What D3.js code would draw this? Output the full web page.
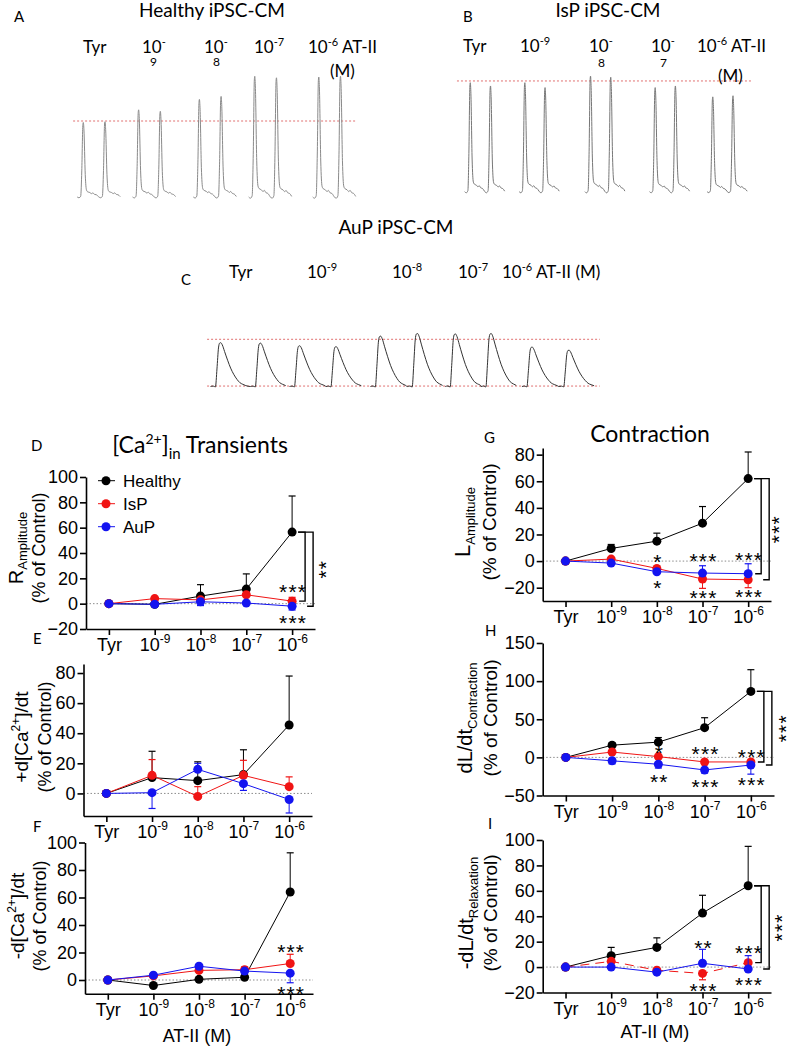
<!DOCTYPE html>
<html>
<head>
<meta charset="utf-8">
<script src="https://cdn.jsdelivr.net/npm/d3@7"></script>
<style>
  body { margin: 0; background: #fff; }
  svg { display: block; }
  text { white-space: pre; }
</style>
</head>
<body>
<script>

// ---- data ----
var doses = ["Tyr", "10-9", "10-8", "10-7", "10-6"];
var groups = ["Healthy", "IsP", "AuP"];
var groupColors = ["#000000", "#f01414", "#1414f0"];

// raw traces: beat times (s) and peak amplitude (relative to Tyr) of the 2 beats shown per dose
var healthyBeatTimes = [[0, 1], [2.55, 3.55], [5.35, 6.35], [7.9, 8.9], [10.85, 11.85]];
var healthyBeatAmp = [[1.0, 1.01], [1.17, 1.15], [1.31, 1.35], [1.62, 1.60], [1.61, 1.62]];
var ispBeatTimes = [[0, 1], [2.7, 3.7], [5.95, 6.95], [9.15, 10.15], [12, 13]];
var ispBeatAmp = [[1.0, 0.97], [1.0, 0.955], [1.06, 1.05], [0.955, 0.97], [0.87, 0.88]];
var aupBeatTimes = [[0, 1.05], [2.08, 3.04], [4.21, 5.18], [6.18, 7.12], [8.2, 9.17]];
var aupBeatAmp = [[1.0, 0.99], [0.93, 0.91], [1.15, 1.21], [1.2, 1.21], [0.9, 0.83]];
// beat shapes [time from peak (s), fraction of peak]
var fastBeat = [[-0.28, 0], [-0.2, -0.01], [-0.12, 0.01], [-0.07, 0.35], [-0.02, 0.97], [0, 1], [0.03, 0.9],
  [0.09, 0.3], [0.15, 0.09], [0.2, 0.07], [0.3, 0.06], [0.38, 0.045], [0.44, 0.055], [0.52, 0.035], [0.6, 0.03], [0.7, 0.005]];
var slowBeat = [[-0.25, 0], [-0.18, 0.01], [-0.12, -0.01], [-0.08, 0.4], [-0.04, 0.88], [-0.01, 0.99], [0.02, 1], [0.06, 0.95],
  [0.12, 0.8], [0.2, 0.6], [0.28, 0.42], [0.36, 0.28], [0.45, 0.16], [0.52, 0.09], [0.6, 0.05], [0.68, 0.02]];

// D  R amplitude
var rAmpHealthy = [0, -0.5, 6, 11.5, 56.5],   rAmpHealthySem = [0, 0, 9, 12, 28.5];
var rAmpIsP = [0, 4, 3, 7, 2],                rAmpIsPSem = [0, 0, 0, 0, 3];
var rAmpAuP = [0, -0.5, 1.5, 0.5, -2],        rAmpAuPSem = [0, 0, -3, 0, -3];
// E  +d[Ca]/dt
var upHealthy = [0, 10.5, 8.5, 12.5, 45.5],   upHealthySem = [0, 17.5, 12.5, 16.5, 32.5];
var upIsP = [0, 12, -2, 12, 4.5],             upIsPSem = [0, 10.5, 6.5, 10, 6.5];
var upAuP = [0, 0.5, 16, 6.5, -4],            upAuPSem = [0, -10.5, 4, -4.5, -9];
// F  -d[Ca]/dt
var downHealthy = [0, -4, 0.5, 2, 64],        downHealthySem = [0, 0, 0, 0, 28.5];
var downIsP = [0, 3, 7, 7.5, 12],             downIsPSem = [0, 0, 0, 2, 6.7];
var downAuP = [0, 3.5, 10, 6.5, 5],           downAuPSem = [0, 0, 0, 0, -7];
// G  L amplitude
var lAmpHealthy = [0, 9.5, 15, 28.5, 62],     lAmpHealthySem = [0, 3, 6, 12.5, 20];
var lAmpIsP = [0, 1.5, -5.5, -13.5, -14],     lAmpIsPSem = [0, 0, 0, -7, -6];
var lAmpAuP = [0, -1.5, -8, -9, -9.5],        lAmpAuPSem = [0, 0, 0, 5.5, 7.5];
// H  dL/dt contraction
var conHealthy = [0, 16, 20, 39, 86.5],       conHealthySem = [0, 3, 6, 13, 28.5];
var conIsP = [0, 7, 1, -6, -6],               conIsPSem = [0, 0, 0, 0, 0];
var conAuP = [0, -4.5, -9, -16.5, -10],       conAuPSem = [0, -4, -5, -4, -12];
// I  -dL/dt relaxation
var relHealthy = [0, 9, 15.5, 42.5, 64],      relHealthySem = [0, 6.5, 7.5, 14, 31];
var relIsP = [0, 4.5, -2.5, -5, 3.5],         relIsPSem = [0, 0, 0, -5, -6];
var relAuP = [0, 0, -4, 3, -1.5],             relAuPSem = [0, 0, 0, 11, 10.5];

// significance marks [dose index, y value, text]
var rAmpStars = [[4, 13, "***"], [4, -11, "***"]];
var downStars = [[4, 24, "***"], [4, -6.5, "***"]];
var lAmpStars = [[2, 3.2, "*"], [2, -16.3, "*"], [3, 3.8, "***"], [3, -23.8, "***"], [4, 4.5, "***"], [4, -23.3, "***"]];
var conStars = [[2, 12.7, "*"], [3, 11, "***"], [4, 7.5, "***"], [2, -25.3, "**"], [3, -32.7, "***"], [4, -29.6, "***"]];
var relStars = [[3, 19.2, "**"], [4, 15.3, "***"], [3, -14.9, "***"], [4, -10.1, "***"]];

var SANS = "'Liberation Sans', Arial, sans-serif";
var CAL = "Lato, 'Open Sans', sans-serif";

var svg = d3.select("body").append("svg")
    .attr("width", 787)
    .attr("height", 1048);

// text made of parts, shift >0 = down (sub), <0 = up (sup)
function richText(sel, parts) {
    var cur = 0;
    parts.forEach(function (p) {
        var shift = p.shift || 0;
        sel.append("tspan")
            .attr("dy", shift - cur)
            .attr("font-size", p.size)
            .text(p.t);
        cur = shift;
    });
    return sel;
}

function label(x, y, parts, family, anchor) {
    var t = svg.append("text")
        .attr("x", x).attr("y", y)
        .attr("font-family", family || CAL)
        .attr("text-anchor", anchor || "start")
        .attr("fill", "#000");
    return richText(t, parts);
}

// ---- traces ----
function drawTraces(opt) {
    var x = d3.scaleLinear().domain(opt.tDomain).range(opt.xRange);
    var y = d3.scaleLinear().domain([0, 1]).range(opt.yRange);
    var line = d3.line().x(function (d) { return x(d[0]); }).y(function (d) { return y(d[1]); })
        .curve(d3.curveMonotoneX);

    opt.refLines.forEach(function (r) {
        svg.append("line")
            .attr("x1", x(opt.refT[0])).attr("x2", x(opt.refT[1]))
            .attr("y1", y(r)).attr("y2", y(r))
            .attr("stroke", "#e07070").attr("stroke-width", 1)
            .attr("stroke-dasharray", "2,2");
    });

    opt.times.forEach(function (pair, i) {
        var pts = [];
        pair.forEach(function (t0, j) {
            var a = opt.amps[i][j];
            opt.shape.forEach(function (p) {
                pts.push([t0 + p[0], p[1] * a]);
            });
        });
        svg.append("path")
            .attr("d", line(pts))
            .attr("fill", "none")
            .attr("stroke", opt.color)
            .attr("stroke-width", 1);
    });
}

drawTraces({times: healthyBeatTimes, amps: healthyBeatAmp, shape: fastBeat,
    tDomain: [0, 11.85], xRange: [83.3, 340.5], yRange: [197, 122.5],
    refLines: [1.02], refT: [-0.47, 12.6], color: "#8a8a8a"});
drawTraces({times: ispBeatTimes, amps: ispBeatAmp, shape: fastBeat,
    tDomain: [0, 13], xRange: [470.3, 733], yRange: [191.7, 82.7],
    refLines: [1.016], refT: [-0.66, 13.94], color: "#777777"});
drawTraces({times: aupBeatTimes, amps: aupBeatAmp, shape: slowBeat,
    tDomain: [0, 9.17], xRange: [220, 568.3], yRange: [386.5, 342.7],
    refLines: [1.078, 0.01], refT: [-0.34, 10.0], color: "#333333"});

// trace titles and labels
label(212, 17, [{t: "Healthy iPSC-CM", size: 19}], CAL, "middle");
label(608, 17, [{t: "IsP iPSC-CM", size: 19}], CAL, "middle");
label(396, 234, [{t: "AuP iPSC-CM", size: 19}], CAL, "middle");
label(14, 22, [{t: "A", size: 15}]);
label(463, 22, [{t: "B", size: 15}]);
label(181, 285, [{t: "C", size: 15}]);

label(83, 53, [{t: "Tyr", size: 17}]);
label(142, 53, [{t: "10", size: 17}, {t: "-", size: 11, shift: -7}]);
label(150, 66, [{t: "9", size: 12}]);
label(204, 53, [{t: "10", size: 17}, {t: "-", size: 11, shift: -7}]);
label(213, 66, [{t: "8", size: 12}]);
label(254, 53, [{t: "10", size: 17}, {t: "-7", size: 11, shift: -7}]);
label(308, 53, [{t: "10", size: 17}, {t: "-6", size: 11, shift: -7}, {t: " AT-II", size: 17}]);
label(330, 77, [{t: "(M)", size: 17}]);

label(463, 52, [{t: "Tyr", size: 17}]);
label(520, 52, [{t: "10", size: 17}, {t: "-9", size: 11, shift: -7}]);
label(589, 52, [{t: "10", size: 17}, {t: "-", size: 11, shift: -7}]);
label(598, 67, [{t: "8", size: 12}]);
label(651, 52, [{t: "10", size: 17}, {t: "-", size: 11, shift: -7}]);
label(660, 67, [{t: "7", size: 12}]);
label(697, 52, [{t: "10", size: 17}, {t: "-6", size: 11, shift: -7}, {t: " AT-II", size: 17}]);
label(718, 82, [{t: "(M)", size: 17}]);

label(229, 278, [{t: "Tyr", size: 17}]);
label(307, 278, [{t: "10", size: 17}, {t: "-9", size: 11, shift: -7}]);
label(392, 278, [{t: "10", size: 17}, {t: "-8", size: 11, shift: -7}]);
label(458, 278, [{t: "10", size: 17}, {t: "-7", size: 11, shift: -7}]);
label(502, 278, [{t: "10", size: 17}, {t: "-6", size: 11, shift: -7}, {t: " AT-II (M)", size: 17}]);

// ---- summary panels ----
function drawPanel(cfg) {
    var x = d3.scalePoint().domain(doses).range([cfg.left, cfg.right]).padding(0.5);
    var y = d3.scaleLinear().domain(cfg.yDomain).range([cfg.bottom, cfg.top]);
    var g = svg.append("g");

    // dotted zero line
    g.append("line")
        .attr("x1", cfg.left).attr("x2", cfg.right)
        .attr("y1", y(0)).attr("y2", y(0))
        .attr("stroke", "#8c8c8c").attr("stroke-width", 1)
        .attr("stroke-dasharray", "1.5,2");

    var ya = g.append("g")
        .attr("transform", "translate(" + cfg.left + ",0)")
        .call(d3.axisLeft(y).tickValues(cfg.ticks).tickSize(6).tickSizeOuter(0).tickPadding(2));
    var xa = g.append("g")
        .attr("transform", "translate(0," + cfg.bottom + ")")
        .call(d3.axisBottom(x).tickSize(6).tickSizeOuter(0));

    [ya, xa].forEach(function (a) {
        a.select(".domain").attr("stroke", "#000").attr("stroke-width", 1.6);
        a.selectAll(".tick line").attr("stroke", "#000").attr("stroke-width", 1.6);
        a.selectAll("text").attr("font-family", SANS).attr("font-size", 18).attr("fill", "#000");
    });
    xa.selectAll(".tick text").each(function (d) {
        var t = d3.select(this).text("").attr("y", 22).attr("dy", null);
        if (d === "Tyr") {
            t.text("Tyr");
        } else {
            richText(t, [{t: "10", size: 18}, {t: d.slice(2), size: 12, shift: -8}]);
        }
    });

    // series
    cfg.series.forEach(function (s, k) {
        var color = groupColors[k];
        var pts = s.values.map(function (v, i) { return [x(doses[i]), y(v)]; });
        g.append("path")
            .attr("d", d3.line()(pts))
            .attr("fill", "none")
            .attr("stroke", color)
            .attr("stroke-width", 1)
            .attr("stroke-dasharray", s.dash || null);
        s.sem.forEach(function (e, i) {
            if (!e) return;
            var cx = x(doses[i]), v = s.values[i];
            g.append("line")
                .attr("x1", cx).attr("x2", cx)
                .attr("y1", y(v)).attr("y2", y(v + e))
                .attr("stroke", color).attr("stroke-width", 1);
            g.append("line")
                .attr("x1", cx - 3.5).attr("x2", cx + 3.5)
                .attr("y1", y(v + e)).attr("y2", y(v + e))
                .attr("stroke", color).attr("stroke-width", 1.2);
        });
        g.selectAll(null)
            .data(s.values)
            .enter().append("circle")
            .attr("cx", function (d, i) { return x(doses[i]); })
            .attr("cy", function (d) { return y(d); })
            .attr("r", 4.5)
            .attr("fill", color);
    });

    // stars
    (cfg.stars || []).forEach(function (st) {
        g.append("text")
            .attr("x", x(doses[st[0]]) + 1)
            .attr("y", y(st[1]))
            .attr("dy", "0.57em")
            .attr("text-anchor", "middle")
            .attr("font-family", SANS)
            .attr("font-size", 21)
            .attr("letter-spacing", 1.2)
            .text(st[2]);
    });

    // brackets healthy vs the other two groups at the last dose
    if (cfg.bracket) {
        var cx = x(doses[4]);
        var hy = y(cfg.series[0].values[4]);
        var ends = [cfg.series[1].values[4], cfg.series[2].values[4]].sort(function (a, b) { return b - a; });
        var yi = y(ends[0]), yo = y(ends[1]);
        g.append("path")
            .attr("d", "M" + (cx + 6) + "," + hy + "H" + (cx + 13) + "V" + yi + "H" + (cx + 7))
            .attr("fill", "none").attr("stroke", "#000").attr("stroke-width", 1.4);
        g.append("path")
            .attr("d", "M" + (cx + 6) + "," + hy + "H" + (cx + 21) + "V" + yo + "H" + (cx + 15))
            .attr("fill", "none").attr("stroke", "#000").attr("stroke-width", 1.4);
        g.append("text")
            .attr("transform", "translate(" + (cx + cfg.bracket.dx) + "," + ((hy + yo) / 2) + ") rotate(-90)")
            .attr("dy", "0.57em")
            .attr("text-anchor", "middle")
            .attr("font-family", SANS)
            .attr("font-size", 21)
            .attr("letter-spacing", 1.2)
            .text(cfg.bracket.text);
    }

    // y label, two lines, rotated
    cfg.ylab.forEach(function (ln) {
        var t = svg.append("text")
            .attr("transform", "translate(" + ln.x + "," + cfg.ycy + ") rotate(-90)")
            .attr("text-anchor", "middle")
            .attr("font-family", SANS)
            .attr("fill", "#000");
        richText(t, ln.parts);
    });

    if (cfg.xlab) {
        label((cfg.left + cfg.right) / 2 - 2, cfg.xlab, [{t: "AT-II (M)", size: 18}], SANS, "middle");
    }
    return {x: x, y: y};
}

var ctrl = function (size) { return {t: "(% of Control)", size: size}; };

drawPanel({left: 86, right: 315, top: 477, bottom: 629, yDomain: [-20, 100], ticks: [-20, 0, 20, 40, 60, 80, 100],
    series: [{values: rAmpHealthy, sem: rAmpHealthySem}, {values: rAmpIsP, sem: rAmpIsPSem}, {values: rAmpAuP, sem: rAmpAuPSem}],
    stars: rAmpStars, bracket: {dx: 29, text: "**"}, ycy: 548,
    ylab: [{x: 23, parts: [{t: "R", size: 20}, {t: "Amplitude", size: 13, shift: 4}]}, {x: 45, parts: [ctrl(18)]}]});

drawPanel({left: 83.5, right: 312, top: 664, bottom: 816, yDomain: [-15, 86], ticks: [0, 20, 40, 60, 80],
    series: [{values: upHealthy, sem: upHealthySem}, {values: upIsP, sem: upIsPSem}, {values: upAuP, sem: upAuPSem}],
    ycy: 737,
    ylab: [{x: 28, parts: [{t: "+d[Ca", size: 19}, {t: "2+", size: 12, shift: -8}, {t: "]/dt", size: 19}]}, {x: 51, parts: [ctrl(18)]}]});

drawPanel({left: 85, right: 313, top: 842.5, bottom: 993.75, yDomain: [-10, 100], ticks: [0, 20, 40, 60, 80, 100],
    series: [{values: downHealthy, sem: downHealthySem}, {values: downIsP, sem: downIsPSem}, {values: downAuP, sem: downAuPSem}],
    stars: downStars, ycy: 916, xlab: 1042,
    ylab: [{x: 24, parts: [{t: "-d[Ca", size: 19}, {t: "2+", size: 12, shift: -8}, {t: "]/dt", size: 19}]}, {x: 46, parts: [ctrl(18)]}]});

drawPanel({left: 542.7, right: 771, top: 448, bottom: 601, yDomain: [-30, 85], ticks: [-20, 0, 20, 40, 60, 80],
    series: [{values: lAmpHealthy, sem: lAmpHealthySem}, {values: lAmpIsP, sem: lAmpIsPSem}, {values: lAmpAuP, sem: lAmpAuPSem}],
    stars: lAmpStars, bracket: {dx: 26, text: "***"}, ycy: 522,
    ylab: [{x: 470, parts: [{t: "L", size: 22}, {t: "Amplitude", size: 13, shift: 5}]}, {x: 496, parts: [ctrl(19)]}]});

drawPanel({left: 542.7, right: 774, top: 643, bottom: 795.5, yDomain: [-50, 150], ticks: [-50, 0, 50, 100, 150],
    series: [{values: conHealthy, sem: conHealthySem}, {values: conIsP, sem: conIsPSem}, {values: conAuP, sem: conAuPSem}],
    stars: conStars, bracket: {dx: 30, text: "***"}, ycy: 718,
    ylab: [{x: 472, parts: [{t: "dL/dt", size: 20}, {t: "Contraction", size: 13, shift: 5}]}, {x: 497, parts: [ctrl(19)]}]});

drawPanel({left: 542.7, right: 771, top: 840, bottom: 992.5, yDomain: [-20, 100], ticks: [-20, 0, 20, 40, 60, 80, 100],
    series: [{values: relHealthy, sem: relHealthySem}, {values: relIsP, sem: relIsPSem, dash: "9,6"}, {values: relAuP, sem: relAuPSem}],
    stars: relStars, bracket: {dx: 29, text: "***"}, ycy: 913, xlab: 1038,
    ylab: [{x: 473, parts: [{t: "-dL/dt", size: 20}, {t: "Relaxation", size: 13, shift: 5}]}, {x: 497, parts: [ctrl(19)]}]});

// panel letters and titles
label(31, 451, [{t: "D", size: 15}]);
label(33, 644, [{t: "E", size: 15}]);
label(33, 832, [{t: "F", size: 15}]);
label(484, 443, [{t: "G", size: 15}]);
label(485, 636, [{t: "H", size: 15}]);
label(488, 829, [{t: "I", size: 15}]);

label(200, 453, [{t: "[Ca", size: 23}, {t: "2+", size: 14, shift: -9}, {t: "]", size: 23}, {t: "in", size: 15, shift: 6}, {t: " Transients", size: 23}], CAL, "middle");
label(650, 442, [{t: "Contraction", size: 23}], CAL, "middle");

// legend (panel D)
var legY = d3.scalePoint().domain(groups).range([480.7, 526.7]);
groups.forEach(function (name, k) {
    var ly = legY(name);
    svg.append("line")
        .attr("x1", 98).attr("x2", 115).attr("y1", ly).attr("y2", ly)
        .attr("stroke", groupColors[k]).attr("stroke-width", 1);
    svg.append("circle").attr("cx", 106).attr("cy", ly).attr("r", 4.5).attr("fill", groupColors[k]);
    svg.append("text")
        .attr("x", 123).attr("y", ly).attr("dy", "0.35em")
        .attr("font-family", SANS).attr("font-size", 17)
        .text(name);
});

</script>
</body>
</html>
